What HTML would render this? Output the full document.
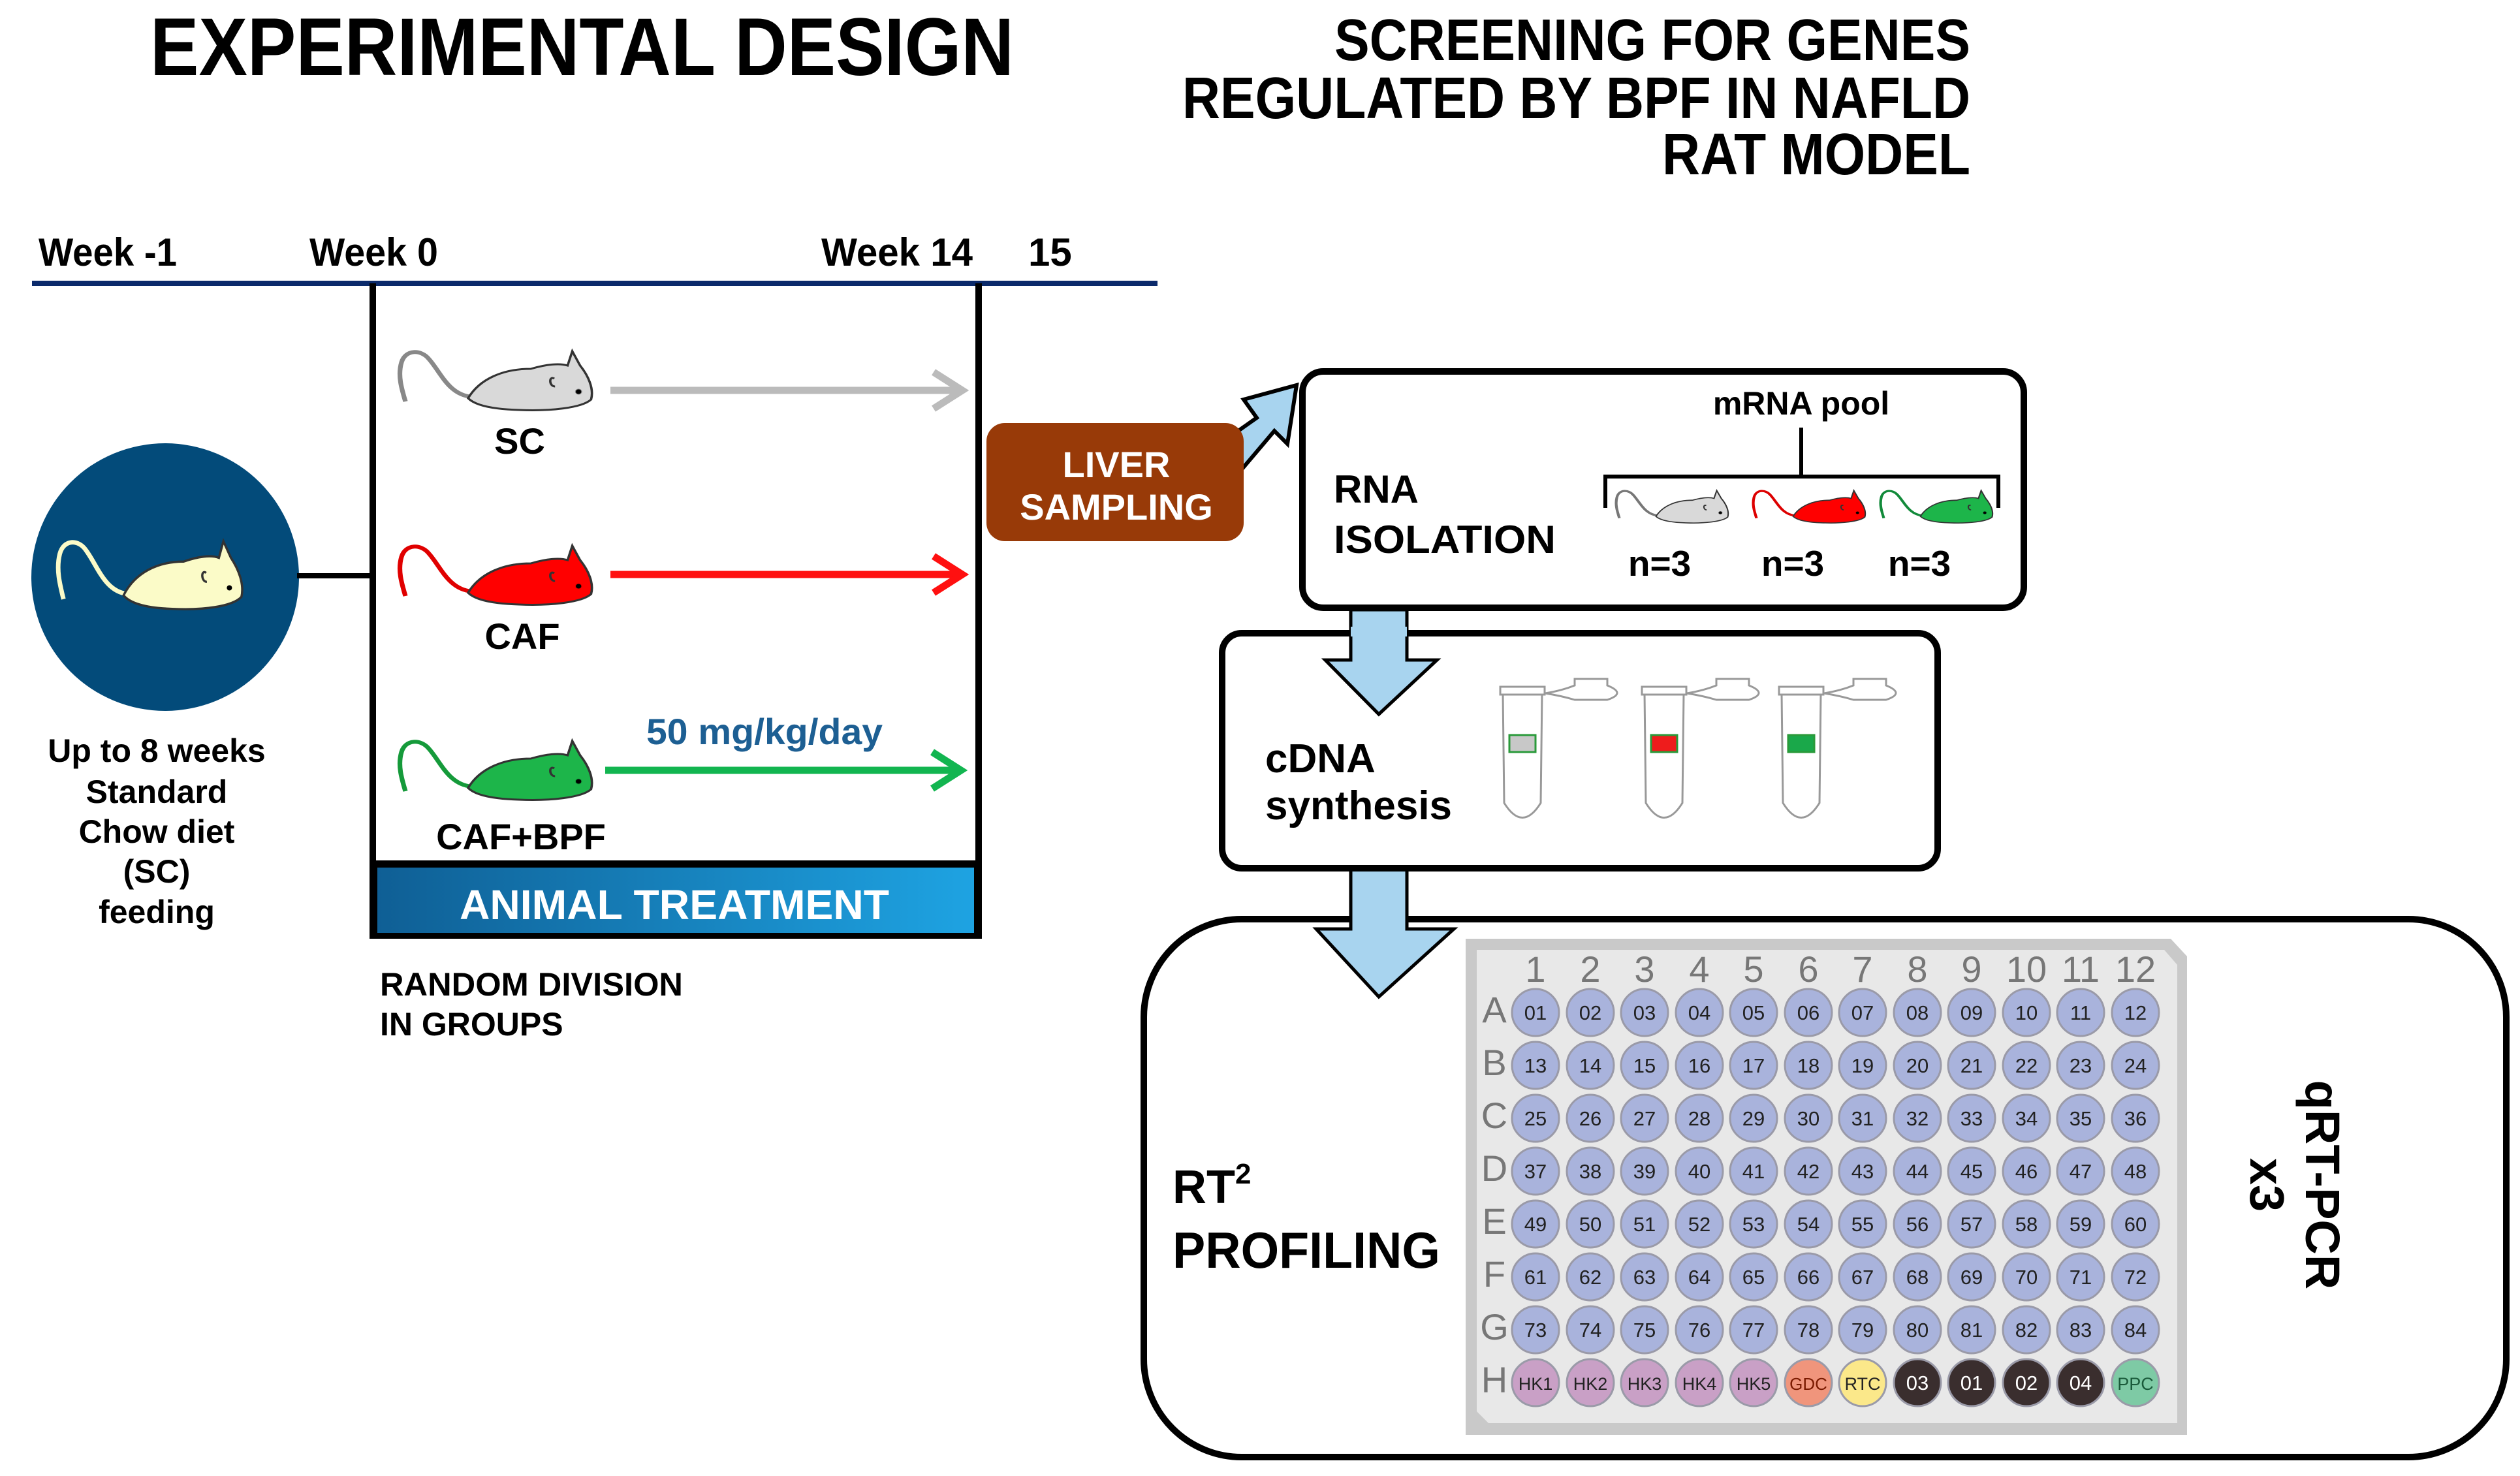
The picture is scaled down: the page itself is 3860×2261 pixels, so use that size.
<!DOCTYPE html>
<html><head><meta charset="utf-8"><style>
html,body{margin:0;padding:0;background:#fff}
svg{display:block}
text{font-family:"Liberation Sans",Arial,sans-serif}
.b{font-weight:bold}
.w circle{stroke:#9a9aa8;stroke-width:3}
.w text{font-size:31px;text-anchor:middle;fill:#222}
.cn{font-size:56px;fill:#777;text-anchor:middle}
.rl{font-size:56px;fill:#777;text-anchor:middle}
</style></head><body>
<svg width="3860" height="2261" viewBox="0 0 3860 2261" xmlns="http://www.w3.org/2000/svg">
<defs>
<linearGradient id="bar" x1="0" x2="1"><stop offset="0" stop-color="#0f5f95"/><stop offset="1" stop-color="#1ea3e2"/></linearGradient>
<g id="mouse">
<path d="M100,78 C70,75 60,40 45,20 C35,5 15,5 10,25 C5,45 10,65 15,85" fill="none" stroke-width="6" stroke="inherit"/>
<path d="M95,80 C110,50 140,35 175,35 C195,28 212,26 222,30 L228,8 L238,30 C248,45 256,65 252,82 C240,95 200,100 160,98 C130,97 105,92 95,80 Z" stroke="#333" stroke-width="3"/>
<circle cx="236" cy="70" r="4" fill="#000"/>
<path d="M205,50 C198,45 198,62 206,62" fill="none" stroke="#333" stroke-width="3"/>
</g>
</defs>

<text x="230" y="115" class="b" font-size="125" textLength="1323" lengthAdjust="spacingAndGlyphs">EXPERIMENTAL DESIGN</text>
<text x="3018" y="92" class="b" font-size="90" text-anchor="end" textLength="974" lengthAdjust="spacingAndGlyphs">SCREENING FOR GENES</text>
<text x="3018" y="181" class="b" font-size="90" text-anchor="end" textLength="1207" lengthAdjust="spacingAndGlyphs">REGULATED BY BPF IN NAFLD</text>
<text x="3018" y="267" class="b" font-size="90" text-anchor="end" textLength="472" lengthAdjust="spacingAndGlyphs">RAT MODEL</text>

<text x="59" y="407" class="b" font-size="60" textLength="212" lengthAdjust="spacingAndGlyphs">Week -1</text>
<text x="474" y="407" class="b" font-size="60" textLength="197" lengthAdjust="spacingAndGlyphs">Week 0</text>
<text x="1258" y="407" class="b" font-size="60" textLength="232" lengthAdjust="spacingAndGlyphs">Week 14</text>
<text x="1575" y="407" class="b" font-size="60">15</text>
<rect x="49" y="430" width="1724" height="8" fill="#0b2a6b"/>
<rect x="566" y="434" width="10" height="1004" fill="#000"/>
<rect x="1494" y="434" width="10" height="1004" fill="#000"/>
<rect x="566" y="1318" width="938" height="120" fill="#000"/>
<rect x="578" y="1329" width="914" height="100" fill="url(#bar)"/>
<text x="1033" y="1408" class="b" font-size="64" fill="#fff" text-anchor="middle" textLength="658" lengthAdjust="spacingAndGlyphs">ANIMAL TREATMENT</text>

<circle cx="253" cy="884" r="205" fill="#034b7a"/>
<rect x="455" y="878" width="114" height="8" fill="#000"/>
<g transform="translate(80,820) scale(1.15)" fill="#fbfbc8" stroke="#fbfbc8"><use href="#mouse"/></g>

<text x="240" y="1167" class="b" font-size="50" text-anchor="middle">Up to 8 weeks</text>
<text x="240" y="1230" class="b" font-size="50" text-anchor="middle">Standard</text>
<text x="240" y="1291" class="b" font-size="50" text-anchor="middle">Chow diet</text>
<text x="240" y="1352" class="b" font-size="50" text-anchor="middle">(SC)</text>
<text x="240" y="1414" class="b" font-size="50" text-anchor="middle">feeding</text>
<text x="582" y="1525" class="b" font-size="50" textLength="464" lengthAdjust="spacingAndGlyphs">RANDOM DIVISION</text>
<text x="582" y="1586" class="b" font-size="50">IN GROUPS</text>

<g transform="translate(603,530) scale(1.2,1.0)" fill="#d9d9d9" stroke="#888"><use href="#mouse"/></g>
<text x="796" y="695" class="b" font-size="56" text-anchor="middle">SC</text>
<line x1="935" y1="598" x2="1470" y2="598" stroke="#bbb" stroke-width="11"/>
<polyline points="1430,570 1474,598 1430,626" fill="none" stroke="#bbb" stroke-width="11"/>

<g transform="translate(603,828) scale(1.2,1.0)" fill="#ff0000" stroke="#e00000"><use href="#mouse"/></g>
<text x="800" y="994" class="b" font-size="56" text-anchor="middle">CAF</text>
<line x1="935" y1="880" x2="1470" y2="880" stroke="#ff1010" stroke-width="11"/>
<polyline points="1430,852 1474,880 1430,908" fill="none" stroke="#ff1010" stroke-width="11"/>

<g transform="translate(603,1127) scale(1.2,1.0)" fill="#1db54a" stroke="#159a3a"><use href="#mouse"/></g>
<text x="798" y="1301" class="b" font-size="56" text-anchor="middle">CAF+BPF</text>
<text x="990" y="1140" class="b" font-size="56" fill="#1d5f93" textLength="362" lengthAdjust="spacingAndGlyphs">50 mg/kg/day</text>
<line x1="927" y1="1180" x2="1468" y2="1180" stroke="#12b550" stroke-width="11"/>
<polyline points="1428,1152 1472,1180 1428,1208" fill="none" stroke="#12b550" stroke-width="11"/>

<polygon points="1840,700 1925,640 1905,612 1986,590 1972,680 1952,660 1880,745" fill="#a8d4ef" stroke="#000" stroke-width="6" stroke-linejoin="miter"/>
<rect x="1511" y="648" width="394" height="181" rx="28" fill="#983a08"/>
<text x="1710" y="731" class="b" font-size="56" fill="#fff" text-anchor="middle">LIVER</text>
<text x="1710" y="796" class="b" font-size="56" fill="#fff" text-anchor="middle">SAMPLING</text>

<rect x="1995" y="569" width="1105" height="362" rx="32" fill="#fff" stroke="#000" stroke-width="10"/>
<text x="2043" y="770" class="b" font-size="60">RNA</text>
<text x="2043" y="847" class="b" font-size="60" textLength="340" lengthAdjust="spacingAndGlyphs">ISOLATION</text>
<text x="2759" y="635" class="b" font-size="50" text-anchor="middle">mRNA pool</text>
<path d="M2759,655 V730 M2459,778 V730 H3061 V778" fill="none" stroke="#000" stroke-width="6"/>
<g transform="translate(2470,747) scale(0.7,0.55)" fill="#d9d9d9" stroke="#777"><use href="#mouse"/></g>
<g transform="translate(2680,747) scale(0.7,0.55)" fill="#ff0000" stroke="#d00"><use href="#mouse"/></g>
<g transform="translate(2875,747) scale(0.7,0.55)" fill="#1db54a" stroke="#128a3a"><use href="#mouse"/></g>
<text x="2542" y="882" class="b" font-size="55" text-anchor="middle">n=3</text>
<text x="2746" y="882" class="b" font-size="55" text-anchor="middle">n=3</text>
<text x="2940" y="882" class="b" font-size="55" text-anchor="middle">n=3</text>

<polygon points="2069,934 2155,934 2155,1011 2201,1011 2112,1094 2030,1011 2069,1011" fill="#a8d4ef" stroke="#000" stroke-width="5"/>

<rect x="1872" y="970" width="1096" height="360" rx="30" fill="none" stroke="#000" stroke-width="10"/>
<polygon points="2069,960 2155,960 2155,1011 2201,1011 2112,1094 2030,1011 2069,1011" fill="#a8d4ef" stroke="none"/>
<polyline points="2155,975 2155,1011 2201,1011 2112,1094 2030,1011 2069,1011 2069,975" fill="none" stroke="#000" stroke-width="5"/>
<text x="1938" y="1183" class="b" font-size="62">cDNA</text>
<text x="1938" y="1255" class="b" font-size="62">synthesis</text>
<g fill="#fff" stroke="#999" stroke-width="3">
<g transform="translate(2332,0)">
<path d="M-30,1062 L-28,1230 Q0,1275 28,1230 L30,1062 Z"/><rect x="-34" y="1052" width="68" height="12"/>
<path d="M35,1062 Q60,1058 80,1050 L80,1040 L130,1040 L130,1050 Q160,1062 130,1072 L80,1072 Q60,1066 35,1062"/>
<rect x="-20" y="1126" width="40" height="26" fill="#c8c8c8" stroke="#2a9a3a"/></g>
<g transform="translate(2549,0)">
<path d="M-30,1062 L-28,1230 Q0,1275 28,1230 L30,1062 Z"/><rect x="-34" y="1052" width="68" height="12"/>
<path d="M35,1062 Q60,1058 80,1050 L80,1040 L130,1040 L130,1050 Q160,1062 130,1072 L80,1072 Q60,1066 35,1062"/>
<rect x="-20" y="1126" width="40" height="26" fill="#ee1c1c" stroke="#2a9a3a"/></g>
<g transform="translate(2759,0)">
<path d="M-30,1062 L-28,1230 Q0,1275 28,1230 L30,1062 Z"/><rect x="-34" y="1052" width="68" height="12"/>
<path d="M35,1062 Q60,1058 80,1050 L80,1040 L130,1040 L130,1050 Q160,1062 130,1072 L80,1072 Q60,1066 35,1062"/>
<rect x="-20" y="1126" width="40" height="26" fill="#1aa84a" stroke="#2a9a3a"/></g>
</g>

<rect x="1752" y="1408" width="2087" height="824" rx="150" fill="none" stroke="#000" stroke-width="10"/>
<polygon points="2069,1335 2155,1335 2155,1423 2227,1423 2112,1527 2016,1423 2069,1423" fill="#a8d4ef" stroke="none"/>
<polyline points="2155,1335 2155,1423 2227,1423 2112,1527 2016,1423 2069,1423 2069,1335" fill="none" stroke="#000" stroke-width="5"/>
<text x="1796" y="1843" class="b" font-size="72">RT<tspan font-size="44" dy="-30">2</tspan></text>
<text x="1796" y="1942" class="b" font-size="78" textLength="410" lengthAdjust="spacingAndGlyphs">PROFILING</text>

<text transform="translate(3532,1815) rotate(90)" class="b" font-size="74" text-anchor="middle">qRT-PCR</text>
<text transform="translate(3447,1815) rotate(90)" class="b" font-size="74" text-anchor="middle">x3</text>

<polygon points="2245,1438 3325,1438 3350,1465 3350,2198 2245,2198" fill="#c9c9c9"/>
<polygon points="2262,1455 3315,1455 3335,1478 3335,2180 2280,2180 2262,2162" fill="#e8e8e8"/>
<text x="2352" y="1504" class="cn">1</text><text x="2436" y="1504" class="cn">2</text><text x="2519" y="1504" class="cn">3</text><text x="2603" y="1504" class="cn">4</text><text x="2686" y="1504" class="cn">5</text><text x="2770" y="1504" class="cn">6</text><text x="2853" y="1504" class="cn">7</text><text x="2937" y="1504" class="cn">8</text><text x="3020" y="1504" class="cn">9</text><text x="3104" y="1504" class="cn">10</text><text x="3187" y="1504" class="cn">11</text><text x="3271" y="1504" class="cn">12</text>
<text x="2289" y="1566" class="rl">A</text><text x="2289" y="1647" class="rl">B</text><text x="2289" y="1728" class="rl">C</text><text x="2289" y="1809" class="rl">D</text><text x="2289" y="1890" class="rl">E</text><text x="2289" y="1971" class="rl">F</text><text x="2289" y="2052" class="rl">G</text><text x="2289" y="2133" class="rl">H</text>

<g class="w" fill="#a9b3dc">
<g transform="translate(0,1551)"><circle cx="2352" cy="0" r="36"/><circle cx="2436" cy="0" r="36"/><circle cx="2519" cy="0" r="36"/><circle cx="2603" cy="0" r="36"/><circle cx="2686" cy="0" r="36"/><circle cx="2770" cy="0" r="36"/><circle cx="2853" cy="0" r="36"/><circle cx="2937" cy="0" r="36"/><circle cx="3020" cy="0" r="36"/><circle cx="3104" cy="0" r="36"/><circle cx="3187" cy="0" r="36"/><circle cx="3271" cy="0" r="36"/>
<text x="2352" y="11">01</text><text x="2436" y="11">02</text><text x="2519" y="11">03</text><text x="2603" y="11">04</text><text x="2686" y="11">05</text><text x="2770" y="11">06</text><text x="2853" y="11">07</text><text x="2937" y="11">08</text><text x="3020" y="11">09</text><text x="3104" y="11">10</text><text x="3187" y="11">11</text><text x="3271" y="11">12</text></g>
<g transform="translate(0,1632)"><circle cx="2352" cy="0" r="36"/><circle cx="2436" cy="0" r="36"/><circle cx="2519" cy="0" r="36"/><circle cx="2603" cy="0" r="36"/><circle cx="2686" cy="0" r="36"/><circle cx="2770" cy="0" r="36"/><circle cx="2853" cy="0" r="36"/><circle cx="2937" cy="0" r="36"/><circle cx="3020" cy="0" r="36"/><circle cx="3104" cy="0" r="36"/><circle cx="3187" cy="0" r="36"/><circle cx="3271" cy="0" r="36"/>
<text x="2352" y="11">13</text><text x="2436" y="11">14</text><text x="2519" y="11">15</text><text x="2603" y="11">16</text><text x="2686" y="11">17</text><text x="2770" y="11">18</text><text x="2853" y="11">19</text><text x="2937" y="11">20</text><text x="3020" y="11">21</text><text x="3104" y="11">22</text><text x="3187" y="11">23</text><text x="3271" y="11">24</text></g>
<g transform="translate(0,1713)"><circle cx="2352" cy="0" r="36"/><circle cx="2436" cy="0" r="36"/><circle cx="2519" cy="0" r="36"/><circle cx="2603" cy="0" r="36"/><circle cx="2686" cy="0" r="36"/><circle cx="2770" cy="0" r="36"/><circle cx="2853" cy="0" r="36"/><circle cx="2937" cy="0" r="36"/><circle cx="3020" cy="0" r="36"/><circle cx="3104" cy="0" r="36"/><circle cx="3187" cy="0" r="36"/><circle cx="3271" cy="0" r="36"/>
<text x="2352" y="11">25</text><text x="2436" y="11">26</text><text x="2519" y="11">27</text><text x="2603" y="11">28</text><text x="2686" y="11">29</text><text x="2770" y="11">30</text><text x="2853" y="11">31</text><text x="2937" y="11">32</text><text x="3020" y="11">33</text><text x="3104" y="11">34</text><text x="3187" y="11">35</text><text x="3271" y="11">36</text></g>
<g transform="translate(0,1794)"><circle cx="2352" cy="0" r="36"/><circle cx="2436" cy="0" r="36"/><circle cx="2519" cy="0" r="36"/><circle cx="2603" cy="0" r="36"/><circle cx="2686" cy="0" r="36"/><circle cx="2770" cy="0" r="36"/><circle cx="2853" cy="0" r="36"/><circle cx="2937" cy="0" r="36"/><circle cx="3020" cy="0" r="36"/><circle cx="3104" cy="0" r="36"/><circle cx="3187" cy="0" r="36"/><circle cx="3271" cy="0" r="36"/>
<text x="2352" y="11">37</text><text x="2436" y="11">38</text><text x="2519" y="11">39</text><text x="2603" y="11">40</text><text x="2686" y="11">41</text><text x="2770" y="11">42</text><text x="2853" y="11">43</text><text x="2937" y="11">44</text><text x="3020" y="11">45</text><text x="3104" y="11">46</text><text x="3187" y="11">47</text><text x="3271" y="11">48</text></g>
<g transform="translate(0,1875)"><circle cx="2352" cy="0" r="36"/><circle cx="2436" cy="0" r="36"/><circle cx="2519" cy="0" r="36"/><circle cx="2603" cy="0" r="36"/><circle cx="2686" cy="0" r="36"/><circle cx="2770" cy="0" r="36"/><circle cx="2853" cy="0" r="36"/><circle cx="2937" cy="0" r="36"/><circle cx="3020" cy="0" r="36"/><circle cx="3104" cy="0" r="36"/><circle cx="3187" cy="0" r="36"/><circle cx="3271" cy="0" r="36"/>
<text x="2352" y="11">49</text><text x="2436" y="11">50</text><text x="2519" y="11">51</text><text x="2603" y="11">52</text><text x="2686" y="11">53</text><text x="2770" y="11">54</text><text x="2853" y="11">55</text><text x="2937" y="11">56</text><text x="3020" y="11">57</text><text x="3104" y="11">58</text><text x="3187" y="11">59</text><text x="3271" y="11">60</text></g>
<g transform="translate(0,1956)"><circle cx="2352" cy="0" r="36"/><circle cx="2436" cy="0" r="36"/><circle cx="2519" cy="0" r="36"/><circle cx="2603" cy="0" r="36"/><circle cx="2686" cy="0" r="36"/><circle cx="2770" cy="0" r="36"/><circle cx="2853" cy="0" r="36"/><circle cx="2937" cy="0" r="36"/><circle cx="3020" cy="0" r="36"/><circle cx="3104" cy="0" r="36"/><circle cx="3187" cy="0" r="36"/><circle cx="3271" cy="0" r="36"/>
<text x="2352" y="11">61</text><text x="2436" y="11">62</text><text x="2519" y="11">63</text><text x="2603" y="11">64</text><text x="2686" y="11">65</text><text x="2770" y="11">66</text><text x="2853" y="11">67</text><text x="2937" y="11">68</text><text x="3020" y="11">69</text><text x="3104" y="11">70</text><text x="3187" y="11">71</text><text x="3271" y="11">72</text></g>
<g transform="translate(0,2037)"><circle cx="2352" cy="0" r="36"/><circle cx="2436" cy="0" r="36"/><circle cx="2519" cy="0" r="36"/><circle cx="2603" cy="0" r="36"/><circle cx="2686" cy="0" r="36"/><circle cx="2770" cy="0" r="36"/><circle cx="2853" cy="0" r="36"/><circle cx="2937" cy="0" r="36"/><circle cx="3020" cy="0" r="36"/><circle cx="3104" cy="0" r="36"/><circle cx="3187" cy="0" r="36"/><circle cx="3271" cy="0" r="36"/>
<text x="2352" y="11">73</text><text x="2436" y="11">74</text><text x="2519" y="11">75</text><text x="2603" y="11">76</text><text x="2686" y="11">77</text><text x="2770" y="11">78</text><text x="2853" y="11">79</text><text x="2937" y="11">80</text><text x="3020" y="11">81</text><text x="3104" y="11">82</text><text x="3187" y="11">83</text><text x="3271" y="11">84</text></g>
<g transform="translate(0,2118)">
<circle cx="2352" cy="0" r="36" fill="#c9a0c6"/><circle cx="2436" cy="0" r="36" fill="#c9a0c6"/><circle cx="2519" cy="0" r="36" fill="#c9a0c6"/><circle cx="2603" cy="0" r="36" fill="#c9a0c6"/><circle cx="2686" cy="0" r="36" fill="#c9a0c6"/><circle cx="2770" cy="0" r="36" fill="#f0957c"/><circle cx="2853" cy="0" r="36" fill="#fbe88a"/><circle cx="2937" cy="0" r="36" fill="#3a2e2e"/><circle cx="3020" cy="0" r="36" fill="#3a2e2e"/><circle cx="3104" cy="0" r="36" fill="#3a2e2e"/><circle cx="3187" cy="0" r="36" fill="#3a2e2e"/><circle cx="3271" cy="0" r="36" fill="#7ecaa5"/>
<text x="2352" y="11" style="font-size:27px">HK1</text><text x="2436" y="11" style="font-size:27px">HK2</text><text x="2519" y="11" style="font-size:27px">HK3</text><text x="2603" y="11" style="font-size:27px">HK4</text><text x="2686" y="11" style="font-size:27px">HK5</text><text x="2770" y="11" style="font-size:26px;fill:#7a1a00">GDC</text><text x="2853" y="11" style="font-size:27px">RTC</text><text x="2937" y="11" style="fill:#fff">03</text><text x="3020" y="11" style="fill:#fff">01</text><text x="3104" y="11" style="fill:#fff">02</text><text x="3187" y="11" style="fill:#fff">04</text><text x="3271" y="11" style="font-size:27px;fill:#1a5a3a">PPC</text></g>
</g>
</svg>
</body></html>
